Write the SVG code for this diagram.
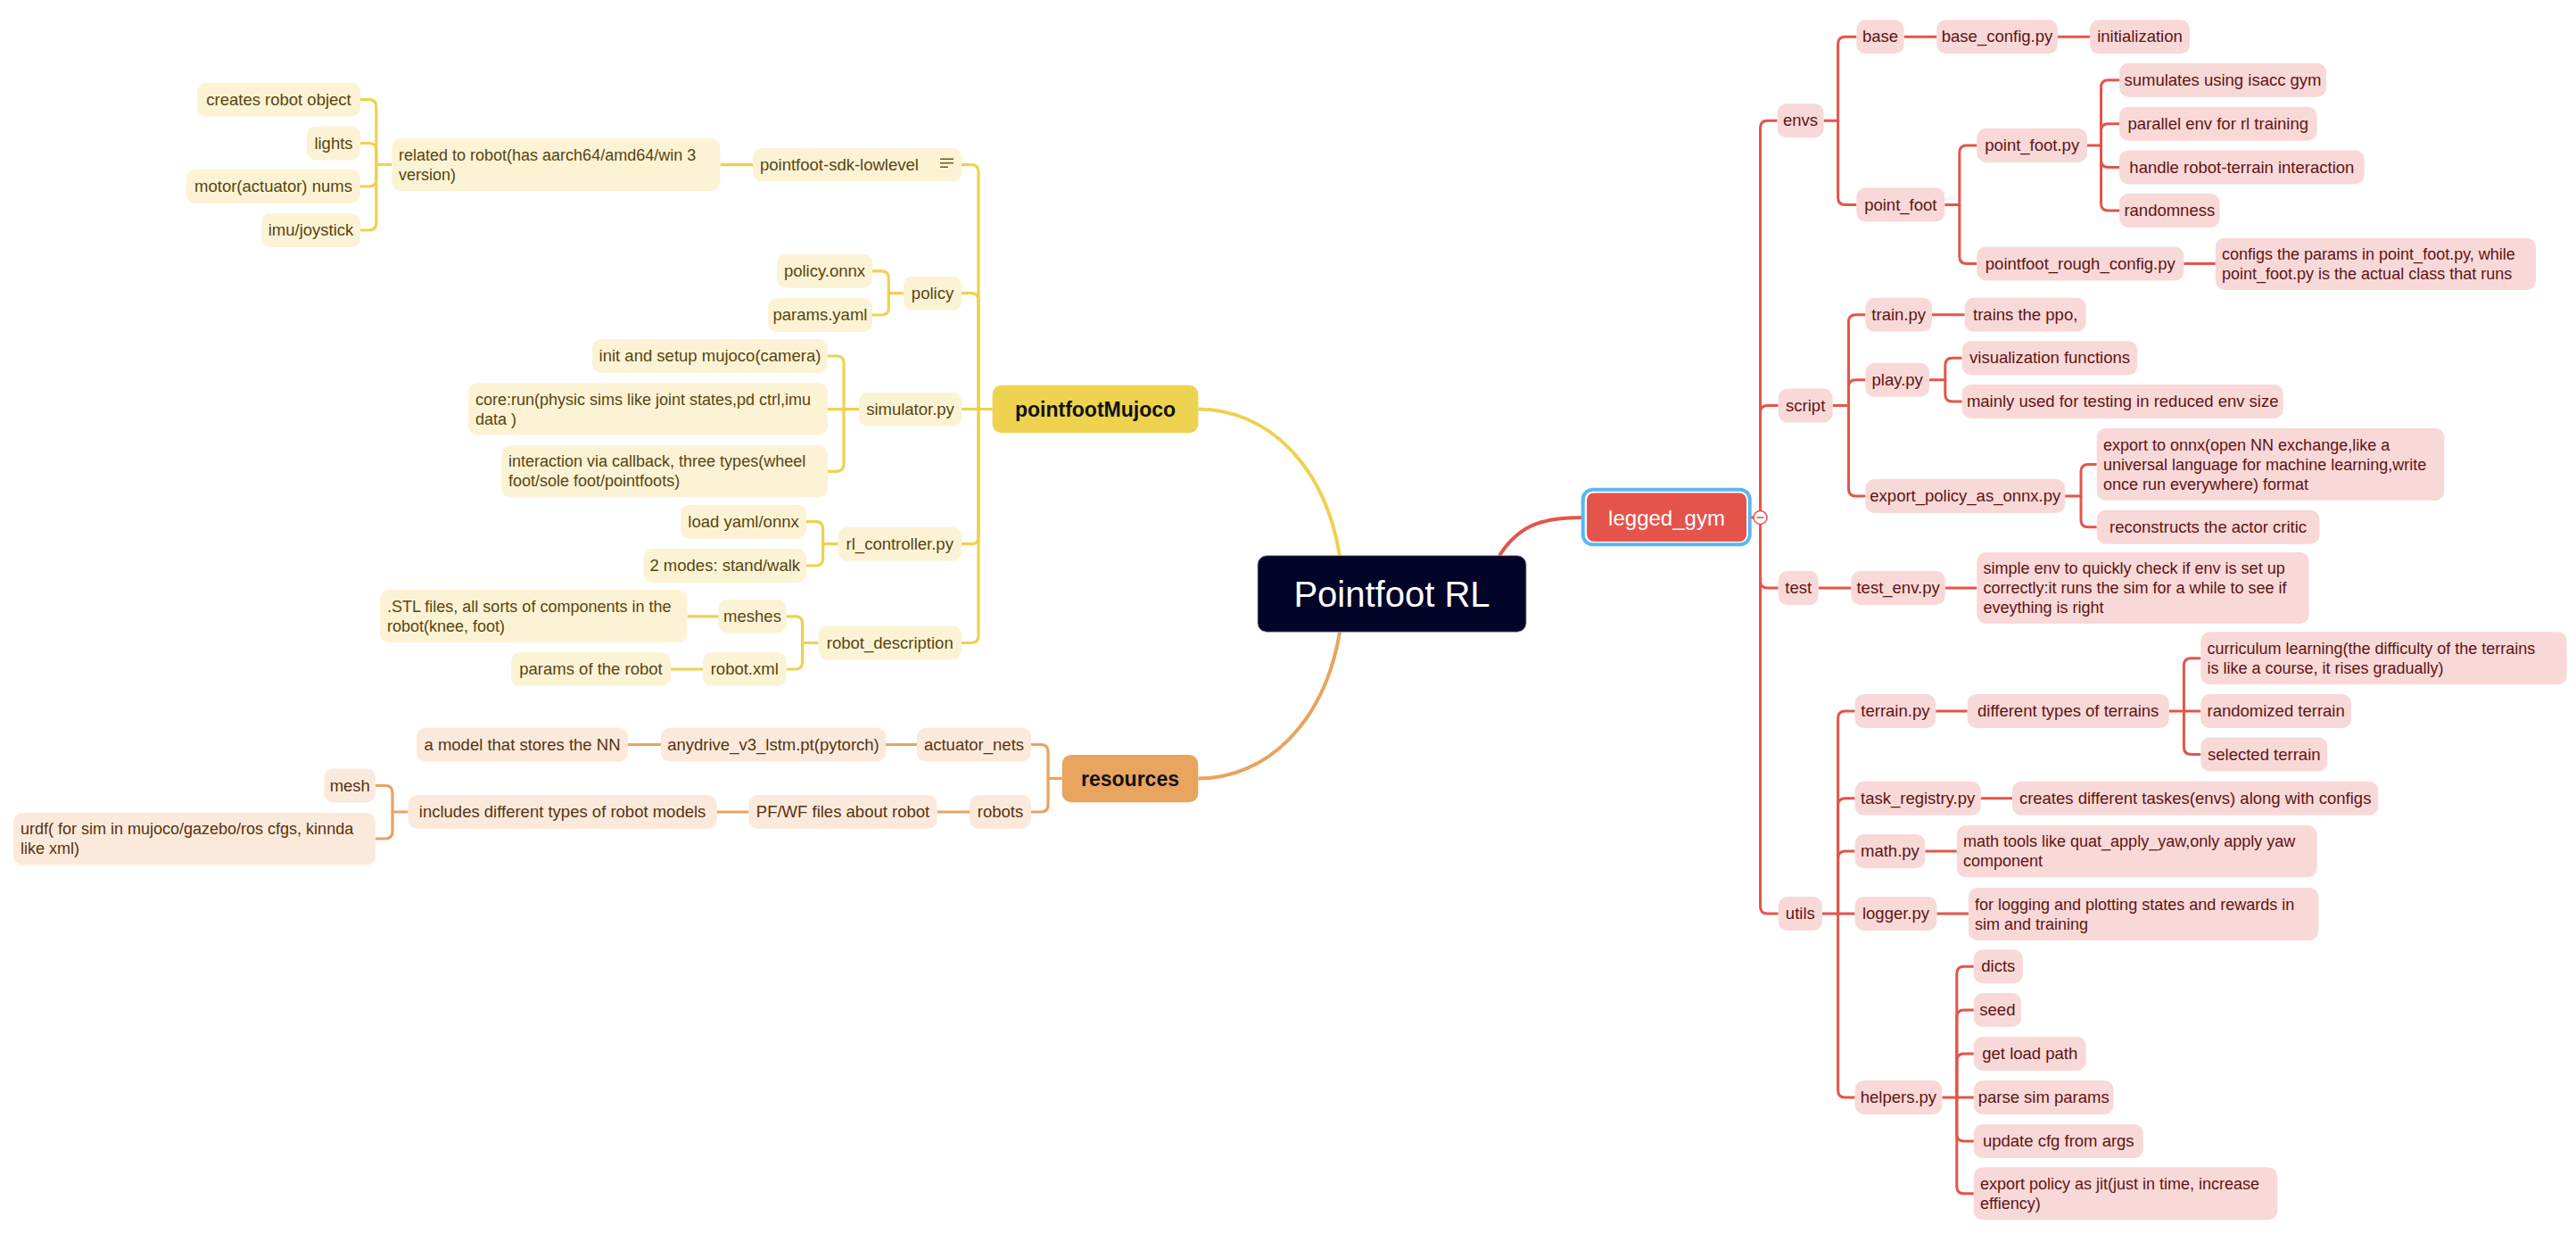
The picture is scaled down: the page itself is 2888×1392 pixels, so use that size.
<svg xmlns="http://www.w3.org/2000/svg" width="2888" height="1392" viewBox="0 0 2888 1392">
<style>
text { font-family: "Liberation Sans", Arial, sans-serif; font-size: 18px; }
.c { text-anchor: middle; font-size: 18.5px; }
.ny rect { fill: #FCF3D5; } .ny text { fill: #574510; }
.no rect { fill: #FBEADB; } .no text { fill: #573211; }
.nr rect { fill: #F8D9D8; } .nr text { fill: #5E1414; }
.ly path { fill: none; stroke: #EFD14F; stroke-width: 3.2; }
.lo path { fill: none; stroke: #E9A35F; stroke-width: 3.2; }
.lr path { fill: none; stroke: #E4554A; stroke-width: 3; }
.main path { fill: none; stroke-width: 4; }
.mt { font-size: 23px; font-weight: bold; fill: #111; text-anchor: middle; }
</style>
<rect width="2888" height="1392" fill="#FFFFFF"/>

<g id="connectors">
  <g class="main">
    <path d="M1343.4,458.5 C1420,458.5 1485,520 1502,622.7" stroke="#EFD14F"/>
    <path d="M1502,708.3 C1485,810 1420,872.5 1343.3,872.5" stroke="#E9A35F"/>
    <path d="M1681,622.7 C1705,585 1735,580 1776,580" stroke="#E4554A"/>
  </g>
  <g class="ly">
    <path d="M1112.6,458.5 H1097 V192.7 Q1097,184.7 1089,184.7 H1078"/>
    <path d="M1097,458.5 V336.7 Q1097,328.7 1089,328.7 H1078"/>
    <path d="M1097,458.5 H1078"/>
    <path d="M1097,458.5 V601.7 Q1097,609.7 1089,609.7 H1078"/>
    <path d="M1097,458.5 V712.5 Q1097,720.5 1089,720.5 H1078"/>
    <path d="M844,184.7 H807.4"/>
    <path d="M439.4,184.5 H421.8 V119.7 Q421.8,111.7 413.8,111.7 H404"/>
    <path d="M421.8,184.5 V168.5 Q421.8,160.5 413.8,160.5 H404"/>
    <path d="M421.8,184.5 V201 Q421.8,209 413.8,209 H404"/>
    <path d="M421.8,184.5 V250 Q421.8,258 413.8,258 H404"/>
    <path d="M1013,328.7 H996.3 V311.8 Q996.3,303.8 988.3,303.8 H978"/>
    <path d="M996.3,328.7 V345 Q996.3,353 988.3,353 H978"/>
    <path d="M963,458.7 H946 V407 Q946,399 938,399 H928"/>
    <path d="M946,458.7 H928"/>
    <path d="M946,458.7 V520.3 Q946,528.3 938,528.3 H928"/>
    <path d="M939.5,609.7 H922.6 V592.7 Q922.6,584.7 914.6,584.7 H904"/>
    <path d="M922.6,609.7 V626 Q922.6,634 914.6,634 H904"/>
    <path d="M917.5,720.5 H899.6 V698.8 Q899.6,690.8 891.6,690.8 H881.5"/>
    <path d="M899.6,720.5 V742 Q899.6,750 891.6,750 H881.5"/>
    <path d="M805.5,690.8 H770.6"/>
    <path d="M788,750 H752"/>
  </g>
  <g class="lo">
    <path d="M1190.7,872.5 H1175 V842.5 Q1175,834.5 1167,834.5 H1156"/>
    <path d="M1175,872.5 V902 Q1175,910 1167,910 H1156"/>
    <path d="M1028,834.5 H993"/>
    <path d="M741,834.5 H704"/>
    <path d="M1087,910 H1050.5"/>
    <path d="M839.5,910 H803.6"/>
    <path d="M457.6,910 H440 V888.5 Q440,880.5 432,880.5 H421"/>
    <path d="M440,910 V932 Q440,940 432,940 H421"/>
  </g>
  <g class="lr">
    <path d="M1962,580 H1966.5"/>
    <path d="M1973.5,572.5 V143.3 Q1973.5,135.3 1981.5,135.3 H1992.6"/>
    <path d="M1973.5,572.5 V462.5 Q1973.5,454.5 1981.5,454.5 H1993.7"/>
    <path d="M1973.5,587.5 V651 Q1973.5,659 1981.5,659 H1993.7"/>
    <path d="M1973.5,587.5 V1016 Q1973.5,1024 1981.5,1024 H1993.7"/>
    <path d="M2044.6,135.3 H2060.6 V49.2 Q2060.6,41.2 2068.6,41.2 H2081.3"/>
    <path d="M2060.6,135.3 V221.5 Q2060.6,229.5 2068.6,229.5 H2081.3"/>
    <path d="M2134.6,41.2 H2171.3"/>
    <path d="M2306.8,41.2 H2343"/>
    <path d="M2180.3,229.5 H2196.8 V171 Q2196.8,163 2204.8,163 H2216.3"/>
    <path d="M2196.8,229.5 V287.5 Q2196.8,295.5 2204.8,295.5 H2216.3"/>
    <path d="M2340,163 H2355.5 V97.7 Q2355.5,89.7 2363.5,89.7 H2376"/>
    <path d="M2355.5,163 V146.7 Q2355.5,138.7 2363.5,138.7 H2376"/>
    <path d="M2355.5,163 V179.5 Q2355.5,187.5 2363.5,187.5 H2376"/>
    <path d="M2355.5,163 V228 Q2355.5,236 2363.5,236 H2376"/>
    <path d="M2448.3,295.5 H2483.8"/>
    <path d="M2054.7,454.5 H2072.5 V360.8 Q2072.5,352.8 2080.5,352.8 H2091.4"/>
    <path d="M2072.5,454.5 V433.8 Q2072.5,425.8 2080.5,425.8 H2091.4"/>
    <path d="M2072.5,454.5 V548 Q2072.5,556 2080.5,556 H2091.4"/>
    <path d="M2166,352.8 H2202.7"/>
    <path d="M2163,425.8 H2180.8 V409.3 Q2180.8,401.3 2188.8,401.3 H2199.7"/>
    <path d="M2180.8,425.8 V442 Q2180.8,450 2188.8,450 H2199.7"/>
    <path d="M2315.2,556 H2333 V528.5 Q2333,520.5 2341,520.5 H2350.7"/>
    <path d="M2333,556 V582.8 Q2333,590.8 2341,590.8 H2350.7"/>
    <path d="M2038.7,659 H2075.4"/>
    <path d="M2180.8,659 H2216.3"/>
    <path d="M2042.9,1024 H2060.6 V805 Q2060.6,797 2068.6,797 H2079.6"/>
    <path d="M2060.6,1024 V902.7 Q2060.6,894.7 2068.6,894.7 H2079.6"/>
    <path d="M2060.6,1024 V962 Q2060.6,954 2068.6,954 H2079.6"/>
    <path d="M2060.6,1024 H2079.6"/>
    <path d="M2060.6,1024 V1222 Q2060.6,1230 2068.6,1230 H2079.6"/>
    <path d="M2170.2,797 H2205.7"/>
    <path d="M2431.7,797 H2448.4 V745.8 Q2448.4,737.8 2456.4,737.8 H2467.3"/>
    <path d="M2448.4,797 H2467.3"/>
    <path d="M2448.4,797 V837.5 Q2448.4,845.5 2456.4,845.5 H2467.3"/>
    <path d="M2220.6,894.7 H2256"/>
    <path d="M2158.3,954 H2193.8"/>
    <path d="M2171.4,1024 H2206.9"/>
    <path d="M2177.3,1230 H2193.8 V1091.3 Q2193.8,1083.3 2201.8,1083.3 H2212.8"/>
    <path d="M2193.8,1230 V1140 Q2193.8,1132 2201.8,1132 H2212.8"/>
    <path d="M2193.8,1230 V1189 Q2193.8,1181 2201.8,1181 H2212.8"/>
    <path d="M2193.8,1230 H2212.8"/>
    <path d="M2193.8,1230 V1271 Q2193.8,1279 2201.8,1279 H2212.8"/>
    <path d="M2193.8,1230 V1329.8 Q2193.8,1337.8 2201.8,1337.8 H2212.8"/>
  </g>
</g>

<!-- central topic -->
<g id="n-root"><rect x="1410" y="622.7" width="301" height="85.6" rx="10" fill="#020428" stroke="#9a9ab0" stroke-width="0.8"/><text x="1560.5" y="679.5" class="c" style="font-size:40px;fill:#FFFFFF">Pointfoot RL</text></g>

<!-- main topics -->
<g id="n-pointfootMujoco"><rect x="1112.6" y="431.7" width="230.8" height="53.6" rx="10" fill="#EDD34F"/><text x="1228" y="466.5" class="mt">pointfootMujoco</text></g>
<g id="n-resources"><rect x="1190.7" y="846" width="152.6" height="53.3" rx="10" fill="#E9A45F"/><text x="1267" y="880.5" class="mt">resources</text></g>
<g id="n-legged_gym"><rect x="1774.7" y="548.7" width="187" height="61.6" rx="11" fill="none" stroke="#5AB7F5" stroke-width="4"/><rect x="1779" y="552.5" width="179" height="54.5" rx="8" fill="#E5544A"/><text x="1868.5" y="588.5" class="c" style="font-size:24px;fill:#FFFFFF">legged_gym</text>
<circle cx="1973.5" cy="580" r="7.5" fill="#FFFFFF" stroke="#E4554A" stroke-width="1.6"/><path d="M1969.5,580 H1977.5" stroke="#E4554A" stroke-width="1.6"/></g>

<!-- pointfootMujoco branch -->
<g id="n-creates" class="ny"><rect x="221" y="92.7" width="183" height="38" rx="10"/><text x="312.5" y="117.7" class="c">creates robot object</text></g>
<g id="n-lights" class="ny"><rect x="344" y="141.5" width="60" height="38" rx="10"/><text x="374" y="166.5" class="c">lights</text></g>
<g id="n-motor" class="ny"><rect x="209" y="190" width="195" height="38" rx="10"/><text x="306.5" y="215" class="c">motor(actuator) nums</text></g>
<g id="n-imu" class="ny"><rect x="293" y="239" width="111" height="38" rx="10"/><text x="348.5" y="264" class="c">imu/joystick</text></g>
<g id="n-related" class="ny"><rect x="439.4" y="155" width="368" height="59" rx="10"/><text x="447" y="179.5">related to robot(has aarch64/amd64/win 3</text><text x="447" y="201.5">version)</text></g>
<g id="n-sdk" class="ny"><rect x="844" y="166" width="234" height="37.5" rx="10"/><text x="852" y="190.7" style="font-size:18.5px">pointfoot-sdk-lowlevel</text><path d="M1054,178.3 H1069 M1054,182.7 H1069 M1054,187.3 H1063" stroke="#6B5A1E" stroke-width="1.6" fill="none"/></g>
<g id="n-policyonnx" class="ny"><rect x="871" y="284.8" width="107" height="38" rx="10"/><text x="924.5" y="309.8" class="c">policy.onnx</text></g>
<g id="n-paramsyaml" class="ny"><rect x="861" y="334" width="117" height="38" rx="10"/><text x="919.5" y="359" class="c">params.yaml</text></g>
<g id="n-policy" class="ny"><rect x="1013" y="309.7" width="65" height="38" rx="10"/><text x="1045.5" y="334.7" class="c">policy</text></g>
<g id="n-init" class="ny"><rect x="664" y="380" width="264" height="38" rx="10"/><text x="796" y="405" class="c">init and setup mujoco(camera)</text></g>
<g id="n-core" class="ny"><rect x="525" y="429.3" width="403" height="58.4" rx="10"/><text x="533" y="453.5">core:run(physic sims like joint states,pd ctrl,imu</text><text x="533" y="475.5">data )</text></g>
<g id="n-interaction" class="ny"><rect x="562" y="499.3" width="366" height="58" rx="10"/><text x="570" y="523.3">interaction via callback, three types(wheel</text><text x="570" y="545.3">foot/sole foot/pointfoots)</text></g>
<g id="n-simulator" class="ny"><rect x="963" y="439.7" width="115" height="38" rx="10"/><text x="1020.5" y="464.7" class="c">simulator.py</text></g>
<g id="n-loadyaml" class="ny"><rect x="763" y="565.7" width="141" height="38" rx="10"/><text x="833.5" y="590.7" class="c">load yaml/onnx</text></g>
<g id="n-modes" class="ny"><rect x="721.5" y="615" width="182.5" height="38" rx="10"/><text x="812.75" y="640" class="c">2 modes: stand/walk</text></g>
<g id="n-rlctrl" class="ny"><rect x="939.5" y="590.7" width="138.5" height="38" rx="10"/><text x="1008.75" y="615.7" class="c">rl_controller.py</text></g>
<g id="n-stl" class="ny"><rect x="426" y="661" width="344.6" height="59" rx="10"/><text x="434" y="685.5">.STL files, all sorts of components in the</text><text x="434" y="707.5">robot(knee, foot)</text></g>
<g id="n-meshes" class="ny"><rect x="805.5" y="671.8" width="76" height="38" rx="10"/><text x="843.5" y="696.8" class="c">meshes</text></g>
<g id="n-robotxml" class="ny"><rect x="788" y="731" width="93.5" height="38" rx="10"/><text x="834.75" y="756" class="c">robot.xml</text></g>
<g id="n-paramsrobot" class="ny"><rect x="573" y="731" width="179" height="38" rx="10"/><text x="662.5" y="756" class="c">params of the robot</text></g>
<g id="n-robotdesc" class="ny"><rect x="917.5" y="701.5" width="160.5" height="38" rx="10"/><text x="997.75" y="726.5" class="c">robot_description</text></g>

<!-- resources branch -->
<g id="n-amodel" class="no"><rect x="467" y="815.5" width="237" height="38" rx="10"/><text x="585.5" y="840.5" class="c">a model that stores the NN</text></g>
<g id="n-anydrive" class="no"><rect x="741" y="815.5" width="252" height="38" rx="10"/><text x="867" y="840.5" class="c">anydrive_v3_lstm.pt(pytorch)</text></g>
<g id="n-actnets" class="no"><rect x="1028" y="815.5" width="128" height="38" rx="10"/><text x="1092" y="840.5" class="c">actuator_nets</text></g>
<g id="n-mesh" class="no"><rect x="363.5" y="861.5" width="57.5" height="38" rx="10"/><text x="392.25" y="886.5" class="c">mesh</text></g>
<g id="n-urdf" class="no"><rect x="15" y="911" width="406" height="58.5" rx="10"/><text x="23" y="935.25">urdf( for sim in mujoco/gazebo/ros cfgs, kinnda</text><text x="23" y="957.25">like xml)</text></g>
<g id="n-includes" class="no"><rect x="457.6" y="891" width="346" height="38" rx="10"/><text x="630.6" y="916" class="c">includes different types of robot models</text></g>
<g id="n-pfwf" class="no"><rect x="839.5" y="891" width="211" height="38" rx="10"/><text x="945" y="916" class="c">PF/WF files about robot</text></g>
<g id="n-robots" class="no"><rect x="1087" y="891" width="69" height="38" rx="10"/><text x="1121.5" y="916" class="c">robots</text></g>

<!-- legged_gym branch -->
<g id="n-envs" class="nr"><rect x="1992.6" y="116.3" width="52" height="38" rx="10"/><text x="2018.6" y="141.3" class="c">envs</text></g>
<g id="n-base" class="nr"><rect x="2081.3" y="22.2" width="53.3" height="38" rx="10"/><text x="2108" y="47.2" class="c">base</text></g>
<g id="n-baseconfig" class="nr"><rect x="2171.3" y="22.2" width="135.5" height="38" rx="10"/><text x="2239" y="47.2" class="c">base_config.py</text></g>
<g id="n-initialization" class="nr"><rect x="2343" y="22.2" width="112" height="38" rx="10"/><text x="2399" y="47.2" class="c">initialization</text></g>
<g id="n-pointfoot" class="nr"><rect x="2081.3" y="210.5" width="99" height="38" rx="10"/><text x="2130.8" y="235.5" class="c">point_foot</text></g>
<g id="n-pointfootpy" class="nr"><rect x="2216.3" y="144" width="123.7" height="38" rx="10"/><text x="2278.2" y="169" class="c">point_foot.py</text></g>
<g id="n-sumulates" class="nr"><rect x="2376" y="70.7" width="232" height="38" rx="10"/><text x="2492" y="95.7" class="c">sumulates using isacc gym</text></g>
<g id="n-parallel" class="nr"><rect x="2376" y="119.7" width="221.5" height="38" rx="10"/><text x="2486.75" y="144.7" class="c">parallel env for rl training</text></g>
<g id="n-handle" class="nr"><rect x="2376" y="168.5" width="274.7" height="38" rx="10"/><text x="2513.35" y="193.5" class="c">handle robot-terrain interaction</text></g>
<g id="n-randomness" class="nr"><rect x="2376" y="217" width="112.6" height="38" rx="10"/><text x="2432.3" y="242" class="c">randomness</text></g>
<g id="n-roughcfg" class="nr"><rect x="2216.3" y="276.5" width="232" height="38" rx="10"/><text x="2332.3" y="301.5" class="c">pointfoot_rough_config.py</text></g>
<g id="n-configs" class="nr"><rect x="2483.8" y="266.7" width="359.2" height="58.3" rx="10"/><text x="2491" y="290.85">configs the params in point_foot.py, while</text><text x="2491" y="312.85">point_foot.py is the actual class that runs</text></g>
<g id="n-script" class="nr"><rect x="1993.7" y="435.5" width="61" height="38" rx="10"/><text x="2024.2" y="460.5" class="c">script</text></g>
<g id="n-trainpy" class="nr"><rect x="2091.4" y="333.8" width="74.6" height="38" rx="10"/><text x="2128.7" y="358.8" class="c">train.py</text></g>
<g id="n-trains" class="nr"><rect x="2202.7" y="333.8" width="136" height="38" rx="10"/><text x="2270.7" y="358.8" class="c">trains the ppo,</text></g>
<g id="n-playpy" class="nr"><rect x="2091.4" y="406.8" width="71.6" height="38" rx="10"/><text x="2127.2" y="431.8" class="c">play.py</text></g>
<g id="n-visual" class="nr"><rect x="2199.7" y="382.3" width="196.6" height="38" rx="10"/><text x="2298" y="407.3" class="c">visualization functions</text></g>
<g id="n-mainly" class="nr"><rect x="2199.7" y="431" width="360" height="38" rx="10"/><text x="2379.7" y="456" class="c">mainly used for testing in reduced env size</text></g>
<g id="n-exportpy" class="nr"><rect x="2091.4" y="537" width="223.8" height="38" rx="10"/><text x="2203.3" y="562" class="c">export_policy_as_onnx.py</text></g>
<g id="n-exportonnx" class="nr"><rect x="2350.7" y="480" width="389.6" height="81" rx="10"/><text x="2358" y="504.5">export to onnx(open NN exchange,like a</text><text x="2358" y="526.5">universal language for machine learning,write</text><text x="2358" y="548.5">once run everywhere) format</text></g>
<g id="n-reconstructs" class="nr"><rect x="2350.7" y="571.8" width="249.8" height="38" rx="10"/><text x="2475.6" y="596.8" class="c">reconstructs the actor critic</text></g>
<g id="n-test" class="nr"><rect x="1993.7" y="640" width="45" height="38" rx="10"/><text x="2016.2" y="665" class="c">test</text></g>
<g id="n-testenv" class="nr"><rect x="2075.4" y="640" width="105.4" height="38" rx="10"/><text x="2128.1" y="665" class="c">test_env.py</text></g>
<g id="n-simple" class="nr"><rect x="2216.3" y="619" width="372.4" height="80" rx="10"/><text x="2223.5" y="643">simple env to quickly check if env is set up</text><text x="2223.5" y="665">correctly:it runs the sim for a while to see if</text><text x="2223.5" y="687">eveything is right</text></g>
<g id="n-utils" class="nr"><rect x="1993.7" y="1005" width="49.2" height="38" rx="10"/><text x="2018.3" y="1030" class="c">utils</text></g>
<g id="n-terrainpy" class="nr"><rect x="2079.6" y="778" width="90.6" height="38" rx="10"/><text x="2124.9" y="803" class="c">terrain.py</text></g>
<g id="n-difftypes" class="nr"><rect x="2205.7" y="778" width="226" height="38" rx="10"/><text x="2318.7" y="803" class="c">different types of terrains</text></g>
<g id="n-curriculum" class="nr"><rect x="2467.3" y="708.3" width="410.3" height="59" rx="10"/><text x="2474.5" y="732.8">curriculum learning(the difficulty of the terrains</text><text x="2474.5" y="754.8">is like a course, it rises gradually)</text></g>
<g id="n-randterrain" class="nr"><rect x="2467.3" y="778" width="168.7" height="38" rx="10"/><text x="2551.65" y="803" class="c">randomized terrain</text></g>
<g id="n-selected" class="nr"><rect x="2467.3" y="826.5" width="142" height="38" rx="10"/><text x="2538.3" y="851.5" class="c">selected terrain</text></g>
<g id="n-taskreg" class="nr"><rect x="2079.6" y="875.7" width="141" height="38" rx="10"/><text x="2150.1" y="900.7" class="c">task_registry.py</text></g>
<g id="n-createstasks" class="nr"><rect x="2256" y="875.7" width="410.3" height="38" rx="10"/><text x="2461.15" y="900.7" class="c">creates different taskes(envs) along with configs</text></g>
<g id="n-mathpy" class="nr"><rect x="2079.6" y="935" width="78.7" height="38" rx="10"/><text x="2118.95" y="960" class="c">math.py</text></g>
<g id="n-mathtools" class="nr"><rect x="2193.8" y="925" width="403.8" height="58.3" rx="10"/><text x="2201" y="949.15">math tools like quat_apply_yaw,only apply yaw</text><text x="2201" y="971.15">component</text></g>
<g id="n-loggerpy" class="nr"><rect x="2079.6" y="1005" width="91.8" height="38" rx="10"/><text x="2125.5" y="1030" class="c">logger.py</text></g>
<g id="n-logging" class="nr"><rect x="2206.9" y="995" width="392.5" height="59" rx="10"/><text x="2214" y="1019.5">for logging and plotting states and rewards in</text><text x="2214" y="1041.5">sim and training</text></g>
<g id="n-helperspy" class="nr"><rect x="2079.6" y="1211" width="97.7" height="38" rx="10"/><text x="2128.45" y="1236" class="c">helpers.py</text></g>
<g id="n-dicts" class="nr"><rect x="2212.8" y="1064.3" width="55" height="38" rx="10"/><text x="2240.3" y="1089.3" class="c">dicts</text></g>
<g id="n-seed" class="nr"><rect x="2212.8" y="1113" width="53.2" height="38" rx="10"/><text x="2239.4" y="1138" class="c">seed</text></g>
<g id="n-getload" class="nr"><rect x="2212.8" y="1162" width="126" height="38" rx="10"/><text x="2275.8" y="1187" class="c">get load path</text></g>
<g id="n-parse" class="nr"><rect x="2212.8" y="1211" width="156.8" height="38" rx="10"/><text x="2291.2" y="1236" class="c">parse sim params</text></g>
<g id="n-update" class="nr"><rect x="2212.8" y="1260" width="190" height="38" rx="10"/><text x="2307.8" y="1285" class="c">update cfg from args</text></g>
<g id="n-exportjit" class="nr"><rect x="2212.8" y="1308.3" width="340.4" height="59" rx="10"/><text x="2220" y="1332.8">export policy as jit(just in time, increase</text><text x="2220" y="1354.8">effiency)</text></g>
</svg>
